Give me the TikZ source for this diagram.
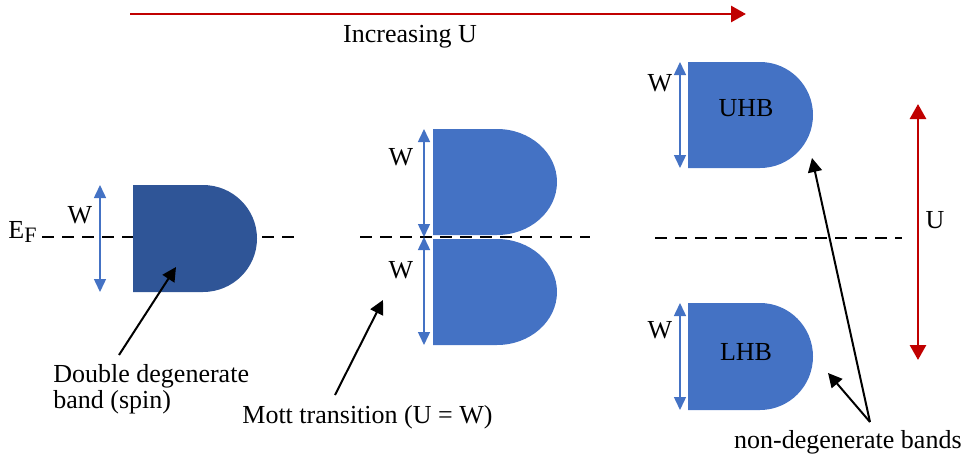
\documentclass[tikz,border=0pt]{standalone}
\usepackage{fontspec}
\setmainfont{Liberation Serif}
\usetikzlibrary{arrows.meta,positioning}
\definecolor{bandlight}{RGB}{68,114,196}
\definecolor{banddark}{RGB}{47,85,151}
\definecolor{ured}{RGB}{192,0,0}
\tikzset{
  px/.style={x=0.5pt,y=-0.5pt},
  lbl/.style={font=\fontsize{13}{11.5}\selectfont, inner sep=0pt},
  wspan/.style={bandlight, line width=0.75pt, {Triangle[width=6pt,length=6.5pt]}-{Triangle[width=6pt,length=6.5pt]}},
  uspan/.style={ured, line width=1.4pt, -{Triangle[width=8pt,length=7.5pt]}},
  pointer/.style={black, line width=1pt, -{Triangle[width=7pt,length=7pt]}},
  fermi/.style={black, line width=1.2pt, dash pattern=on 6pt off 4pt},
}
% D-shaped band: left x, top y, bottom y, start of round part, right end, colour
\newcommand{\dband}[6]{%
  \fill[#6] (#1,#2) -- (#4,#2)
    arc[start angle=90, end angle=-90, x radius={(#5-#4)*0.5pt}, y radius={(#3-#2)*0.25pt}]
    -- (#1,#3) -- cycle;}
\begin{document}
\begin{tikzpicture}[px]
  \useasboundingbox (0,0) rectangle (966,461);
  % Increasing U
  \coordinate (inc start) at (130,14);
  \coordinate (inc end) at (746,14);
  \draw[uspan] (inc start) -- (inc end);
  \node[lbl, anchor=base] (incU) at (410,42) {Increasing U};
  % Fermi level lines
  \coordinate (ef1 l) at (42,237);
  \coordinate (ef1 r) at (296,237);
  \coordinate (ef2 l) at (360,237);
  \coordinate (ef2 r) at (590,237);
  \coordinate (ef3 l) at (655,238);
  \coordinate (ef3 r) at (902,238);
  \draw[fermi] (ef1 l) -- (ef1 r);
  \draw[fermi] (ef2 l) -- (ef2 r);
  \draw[fermi] (ef3 l) -- (ef3 r);
  \node[lbl, anchor=base west] (ef) at (8,238) {E\raisebox{-0.35ex}{\fontsize{11}{11}\selectfont F}};
  % Double degenerate band
  \dband{133}{185}{292}{203}{257}{banddark}
  \coordinate (b1 top) at (100,185);
  \coordinate (b1 bot) at (100,292);
  \draw[wspan] (b1 top) -- (b1 bot);
  \node[lbl] (w1) at (80,215) {W};
  % Mott transition, two touching bands
  \dband{433}{129}{235}{497}{557}{bandlight}
  \dband{433}{239}{345}{497}{557}{bandlight}
  \coordinate (b2 top) at (424,129);
  \coordinate (b2 mid) at (424,237);
  \coordinate (b2 bot) at (424,345);
  \draw[wspan] (b2 top) -- (b2 mid);
  \draw[wspan] (b2 mid) -- (b2 bot);
  \node[lbl] (w2a) at (401,157) {W};
  \node[lbl] (w2b) at (401,270) {W};
  % Hubbard bands
  \dband{688}{62}{168}{760}{813}{bandlight}
  \dband{688}{303}{410}{760}{813}{bandlight}
  \node[lbl] (uhb) at (746,108) {UHB};
  \node[lbl] (lhb) at (746,352) {LHB};
  \coordinate (uhb top) at (680,62);
  \coordinate (uhb bot) at (680,168);
  \coordinate (lhb top) at (680,303);
  \coordinate (lhb bot) at (680,410);
  \draw[wspan] (uhb top) -- (uhb bot);
  \draw[wspan] (lhb top) -- (lhb bot);
  \node[lbl] (w3a) at (660,83) {W};
  \node[lbl] (w3b) at (660,330) {W};
  % U gap
  \coordinate (gap top) at (918,104);
  \coordinate (gap bot) at (918,360);
  \draw[uspan, {Triangle[width=8pt,length=7.5pt]}-{Triangle[width=8pt,length=7.5pt]}] (gap top) -- (gap bot);
  \node[lbl] (ulbl) at (935,220) {U};
  % Pointers and captions
  \node[lbl, anchor=north west, align=left] (dd) at (53,364) {Double degenerate\\band (spin)};
  \coordinate (dd tail) at (119,355);
  \coordinate (dd head) at (176,267);
  \draw[pointer] (dd tail) -- (dd head);
  \node[lbl, anchor=base west] (mott) at (242,423) {Mott transition (U = W)};
  \coordinate (mott tail) at (335,395);
  \coordinate (mott head) at (383,300);
  \draw[pointer] (mott tail) -- (mott head);
  \node[lbl, anchor=base east] (nd) at (962,448) {non-degenerate bands};
  \coordinate (nd tail) at (870,422);
  \coordinate (uhb tip) at (812,158);
  \coordinate (lhb tip) at (828,373);
  \draw[pointer] (nd tail) -- (uhb tip);
  \draw[pointer] (nd tail) -- (lhb tip);
\end{tikzpicture}
\end{document}
